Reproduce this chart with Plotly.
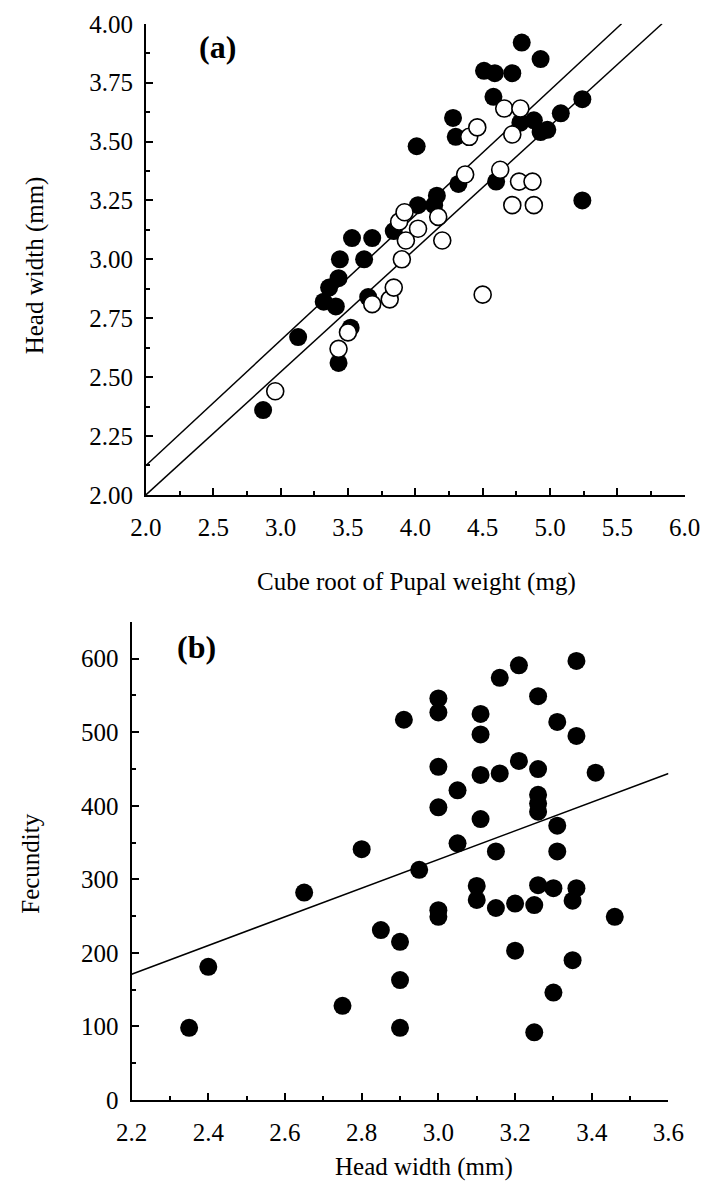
import numpy as np
import plotly.graph_objects as go

# ---------------- Panel (a) data ----------------
a_filled_x = [2.87, 3.13, 3.43, 3.52, 3.32, 3.41, 3.36, 3.43, 3.44, 3.53, 3.62, 3.68,
              3.65, 3.84, 4.02, 4.01, 4.16, 4.14, 4.28, 4.30, 4.32, 4.51, 4.59, 4.72,
              4.79, 4.93, 4.58, 4.60, 4.78, 4.88, 4.93, 4.98, 5.08, 5.24, 5.24]
a_filled_y = [2.36, 2.67, 2.56, 2.71, 2.82, 2.80, 2.88, 2.92, 3.00, 3.09, 3.00, 3.09,
              2.84, 3.12, 3.23, 3.48, 3.27, 3.23, 3.60, 3.52, 3.32, 3.80, 3.79, 3.79,
              3.92, 3.85, 3.69, 3.33, 3.58, 3.59, 3.54, 3.55, 3.62, 3.68, 3.25]
a_open_x = [2.96, 3.43, 3.50, 3.68, 3.81, 3.84, 3.90, 3.93, 3.88, 3.92, 4.02, 4.17,
            4.20, 4.37, 4.40, 4.46, 4.50, 4.63, 4.66, 4.72, 4.78, 4.77, 4.87, 4.72, 4.88]
a_open_y = [2.44, 2.62, 2.69, 2.81, 2.83, 2.88, 3.00, 3.08, 3.16, 3.20, 3.13, 3.18,
            3.08, 3.36, 3.52, 3.56, 2.85, 3.38, 3.64, 3.53, 3.64, 3.33, 3.33, 3.23, 3.23]
# regression lines (intercept, slope)
a_line_upper = (1.063, 0.531)
a_line_lower = (0.956, 0.522)

# ---------------- Panel (b) data ----------------
b_x = [2.35, 2.40, 2.65, 2.75, 2.80, 2.85, 2.90, 2.90, 2.90, 2.91, 2.95, 3.00,
       3.00, 3.00, 3.00, 3.00, 3.00, 3.05, 3.05, 3.11, 3.11, 3.11, 3.11, 3.10,
       3.10, 3.16, 3.16, 3.15, 3.15, 3.21, 3.21, 3.20, 3.20, 3.26, 3.26, 3.26,
       3.26, 3.26, 3.26, 3.25, 3.25, 3.31, 3.31, 3.31, 3.30, 3.30, 3.36, 3.36,
       3.36, 3.35, 3.35, 3.41, 3.46]
b_y = [98, 181, 282, 128, 341, 231, 215, 163, 98, 517, 313, 546,
       527, 453, 398, 258, 249, 421, 349, 525, 497, 442, 382, 291,
       272, 574, 444, 338, 261, 591, 461, 267, 203, 549, 450, 415,
       403, 392, 292, 265, 92, 514, 373, 338, 288, 146, 597, 495,
       288, 271, 190, 445, 249]
b_line = (-258.0, 195.0)

FONT = "Liberation Serif"
BLACK = "#000000"

W, H = 716, 1198


def px(x):
    return x / W


def py(y):
    return 1 - y / H


fig = go.Figure()

for b0, m in (a_line_upper, a_line_lower):
    xs = np.array([2.0, (4.0 - b0) / m])
    fig.add_trace(go.Scatter(x=xs, y=b0 + m * xs, mode="lines",
                             line=dict(color=BLACK, width=1.5),
                             xaxis="x", yaxis="y", showlegend=False, hoverinfo="skip"))
fig.add_trace(go.Scatter(x=a_filled_x, y=a_filled_y, mode="markers",
                         marker=dict(size=18, color=BLACK, line=dict(width=0)),
                         xaxis="x", yaxis="y", showlegend=False))
fig.add_trace(go.Scatter(x=a_open_x, y=a_open_y, mode="markers",
                         marker=dict(size=17, color="white", line=dict(width=1.6, color=BLACK)),
                         xaxis="x", yaxis="y", showlegend=False))

xs_b = np.array([2.2, 3.6])
fig.add_trace(go.Scatter(x=xs_b, y=b_line[0] + b_line[1] * xs_b, mode="lines",
                         line=dict(color=BLACK, width=1.5),
                         xaxis="x2", yaxis="y2", showlegend=False, hoverinfo="skip"))
fig.add_trace(go.Scatter(x=b_x, y=b_y, mode="markers",
                         marker=dict(size=18, color=BLACK, line=dict(width=0)),
                         xaxis="x2", yaxis="y2", showlegend=False))

tickfont = dict(family=FONT, size=25, color=BLACK)
common = dict(showline=True, linecolor=BLACK, linewidth=2, ticks="inside",
              ticklen=7, tickwidth=1.5, tickcolor=BLACK, showgrid=False,
              zeroline=False, tickfont=tickfont, mirror=False,
              ticklabeloverflow="allow")

fig.update_layout(
    width=W, height=H,
    margin=dict(l=0, r=0, t=0, b=0),
    paper_bgcolor="white", plot_bgcolor="white",
    font=dict(family=FONT, color=BLACK),
    xaxis=dict(domain=[px(136), px(700)], range=[2, 6], anchor="y", tick0=2, dtick=0.5,
               tickformat=".1f", ticklabelstandoff=9,
               minor=dict(ticks="inside", ticklen=4, dtick=0.25, tick0=2, tickcolor=BLACK),
               **common),
    yaxis=dict(domain=[py(493), py(11)], range=[2, 4], anchor="x", tick0=2, dtick=0.25,
               tickformat=".2f", ticklabelstandoff=6,
               minor=dict(ticks="inside", ticklen=4, dtick=0.125, tick0=2, tickcolor=BLACK),
               **common),
    xaxis2=dict(domain=[px(121), px(683)], range=[2.2, 3.6], anchor="y2", tick0=2.2, dtick=0.2,
                tickformat=".1f", ticklabelstandoff=9,
                minor=dict(ticks="inside", ticklen=4, dtick=0.1, tick0=2.2, tickcolor=BLACK),
                **common),
    yaxis2=dict(domain=[py(1112), py(623)], range=[0, 650], anchor="x2", tick0=0, dtick=100,
                ticklabelstandoff=6,
                minor=dict(ticks="inside", ticklen=4, dtick=50, tick0=0, tickcolor=BLACK),
                **common),
    annotations=[
        dict(text="<b>(a)</b>", x=2.53, y=3.90, xref="x", yref="y", showarrow=False,
             font=dict(family=FONT, size=32, color=BLACK)),
        dict(text="<b>(b)</b>", x=2.37, y=616, xref="x2", yref="y2", showarrow=False,
             font=dict(family=FONT, size=32, color=BLACK)),
        dict(text="Cube root of Pupal weight (mg)", x=px(419), y=py(582),
             xref="paper", yref="paper", showarrow=False, xanchor="center", yanchor="middle",
             font=dict(family=FONT, size=25, color=BLACK)),
        dict(text="Head width (mm)", x=px(427), y=py(1181),
             xref="paper", yref="paper", showarrow=False, xanchor="center", yanchor="middle",
             font=dict(family=FONT, size=25, color=BLACK)),
        dict(text="Head width (mm)", x=px(20), y=py(258), textangle=-90,
             xref="paper", yref="paper", showarrow=False, xanchor="center", yanchor="middle",
             font=dict(family=FONT, size=25, color=BLACK)),
        dict(text="Fecundity", x=px(15), y=py(870), textangle=-90,
             xref="paper", yref="paper", showarrow=False, xanchor="center", yanchor="middle",
             font=dict(family=FONT, size=25, color=BLACK)),
    ],
)

fig.write_html("out.html", config={"displayModeBar": False},
               post_script="document.body.style.margin='0';document.body.style.overflow='hidden';")
